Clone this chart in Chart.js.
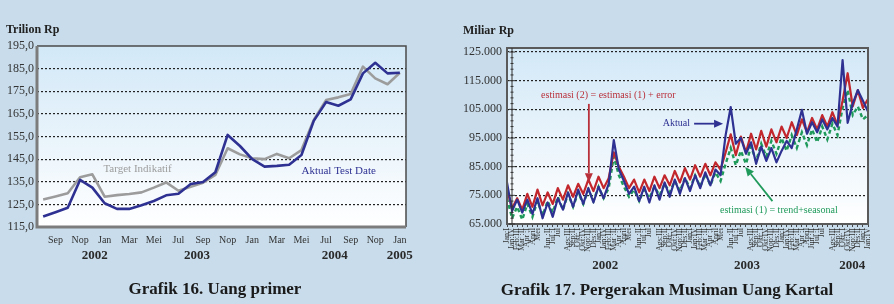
<!DOCTYPE html>
<html><head><meta charset="utf-8">
<script src="https://cdn.jsdelivr.net/npm/chart.js@4.4.0/dist/chart.umd.min.js"></script>
<style>
html,body{margin:0;padding:0;width:894px;height:304px;overflow:hidden;background:#c8dceb;}
#wrap{position:relative;width:894px;height:304px;}
canvas{position:absolute;top:0;}
#c16{left:0}
#c17{left:447px}
</style></head><body><div id="wrap"><canvas id="c16" width="447" height="304"></canvas><canvas id="c17" width="447" height="304"></canvas></div>
<script>
// ---------- Grafik 16 data ----------
const months16 = ['Agt','Sep','Okt','Nop','Des','Jan','Feb','Mar','Apr','Mei','Jun','Jul','Agt','Sep','Okt','Nop','Des','Jan','Feb','Mar','Apr','Mei','Jun','Jul','Agt','Sep','Okt','Nop','Des','Jan'];
const aktualTestDate = [119.6,121.5,123.5,135.8,132.4,125.5,123.0,123.0,124.6,126.5,129.0,129.7,134.0,134.9,139.2,155.7,150.8,145.0,141.7,142.0,142.5,146.8,161.9,170.2,168.6,171.4,182.9,187.6,182.9,183.2];
const targetIndikatif = [127.2,128.5,129.9,137.0,138.3,128.4,129.1,129.6,130.3,132.4,134.7,131.0,132.8,134.6,138.0,149.8,147.1,145.4,145.0,147.3,145.4,149.0,162.3,171.1,172.3,173.8,185.9,180.7,178.1,183.2];
const years16 = ['2002','2003','2004','2005'];
const yTicks16 = [115,125,135,145,155,165,175,185,195];

// ---------- Grafik 17 data ----------
const weeks17 = [
 'Jan:I','Jan:IV','Feb:III','Mar :II','Apr :I','April','Mei','','Jun :II','Jul :I','Jul','','Ags:III','Sep:II','Okt: I','Okt:IV','Nop:III','Des:II',
 'Jan:I','Jan:IV','Feb:III','Mar :II','Apr :I','April','Mei','','Jun :II','Jul :I','Jul','','Ags:III','Sep:II','Okt: I','Okt:IV','Nop:III','Des:II',
 'Jan:I','Jan:IV','Feb:III','Mar :II','Apr :I','April','Mei','','Jun :II','Jul :I','Jul','','Ags:III','Sep:II','Okt: I','Okt:IV','Nop:III','Des:II',
 'Jan:I','Jan:IV','Feb:III','Mar :II','Apr :I','April','Jun :II','Jul :I','Jul','','Ags:III','Sep:II','Okt: I','Okt:IV','Nop:III','Des:II','Jan:I','Jan:IV'];
const aktual17 = [79500,69500,73500,69000,73500,68500,74000,67000,72500,67500,74000,70000,76000,71000,77000,72000,77500,72500,78000,74000,
 79000,94300,84000,80000,75500,78000,73000,78000,72500,78500,73500,79500,74500,80500,75500,81000,76500,82000,77500,83000,
 78500,84000,82000,96000,105800,93000,95000,89500,93500,86000,92000,87000,91500,86500,90500,94000,91500,98000,104800,96500,
 100500,97000,101500,98000,102000,99000,122200,100300,107000,111700,108000,104200];
const estimasi2 = [77000,70500,74000,70000,75500,71000,77000,71500,76000,72000,77500,73500,78500,74500,79000,75500,80500,76500,81500,77500,
 81000,90000,85000,81500,77500,80500,76000,80500,76500,81500,77500,82000,78500,83500,79500,84500,80500,85500,81500,86000,
 82000,86500,84000,90000,96300,89000,95500,90000,96500,91000,97500,92000,98000,93500,99000,95000,100500,96000,101500,97000,
 102000,98000,103000,99000,104000,99500,108000,117600,106000,111700,105500,108600];
const estimasi1 = [74000,67000,71000,66500,72000,67500,73000,68000,73000,69000,74500,70000,75500,71000,76000,72000,77000,73000,78000,74000,
 77500,88500,82000,78000,74500,77000,73000,77000,74000,78000,75000,79000,76000,80000,76500,81000,77500,82000,78000,82500,
 78500,83000,80000,86000,91500,85500,90500,86000,92000,87000,93000,88500,94000,89500,95000,90500,96000,91500,97000,92500,
 98000,93500,99000,94500,100000,96000,105500,111700,103000,106000,101500,103000];
const years17 = ['2002','2003','2004'];
const yTicks17 = [65000,75000,85000,95000,105000,115000,125000];

// ---------- annotation placement (in data space) ----------
const yearAt16 = [4.2,12.5,23.7,29];
const yearAt17 = [19.3,47.2,67.9];
const notes16 = [
  {text:'Target Indikatif', at:4.9, value:140.6, color:'#9c9c9c', align:'left'},
  {text:'Aktual Test Date', at:21.0, value:139.8, color:'#2e3192', align:'left'}
];
const notes17 = [
  {text:'estimasi (2) = estimasi (1) + error', at:6.7, value:110000, color:'#b8303a', align:'left'},
  {text:'Aktual', at:36.0, value:100000, color:'#2e3192', align:'right'},
  {text:'estimasi (1) = trend+seasonal', at:41.9, value:69600, color:'#1f9a5a', align:'left'}
];
const arrows17 = [
  {from:[16.1,106900], to:[16.1,79600], color:'#b8303a'},
  {from:[36.8,100000], to:[42.5,100000], color:'#2e3192'},
  {from:[52.2,73000], to:[46.85,84900], color:'#1f9a5a'}
];

const serif = '"Liberation Serif","Times New Roman",serif';
function fmtThousands(v){ return String(Math.round(v)).replace(/\B(?=(\d{3})+(?!\d))/g,'.'); }

function arrow(ctx,x1,y1,x2,y2,color){
  const ang=Math.atan2(y2-y1,x2-x1), L=9, W=4;
  const bx=x2-L*Math.cos(ang), by=y2-L*Math.sin(ang);
  ctx.save(); ctx.strokeStyle=color; ctx.fillStyle=color; ctx.lineWidth=1.8;
  ctx.beginPath(); ctx.moveTo(x1,y1); ctx.lineTo(bx,by); ctx.stroke();
  ctx.beginPath(); ctx.moveTo(x2,y2);
  ctx.lineTo(bx - W*Math.sin(ang), by + W*Math.cos(ang));
  ctx.lineTo(bx + W*Math.sin(ang), by - W*Math.cos(ang));
  ctx.closePath(); ctx.fill(); ctx.restore();
}

const plotBg = {id:'plotBg', beforeDraw(chart){
  const {ctx, chartArea:a} = chart;
  const g = ctx.createLinearGradient(0,a.top,0,a.bottom);
  g.addColorStop(0,'#d2e8f7'); g.addColorStop(1,'#ffffff');
  ctx.save(); ctx.fillStyle=g; ctx.fillRect(a.left,a.top,a.right-a.left,a.bottom-a.top); ctx.restore();
}};

// ---------- Chart 16 ----------
const deco16 = {id:'deco16', afterDraw(chart){
  const {ctx, chartArea:a, scales:{x,y}} = chart;
  ctx.save();
  ctx.strokeStyle='#4a4a4a'; ctx.lineWidth=1.5;
  ctx.beginPath(); ctx.moveTo(a.left,a.top); ctx.lineTo(a.right,a.top); ctx.lineTo(a.right,a.bottom); ctx.stroke();
  ctx.strokeStyle='#7c7c7c'; ctx.lineWidth=3;
  ctx.beginPath(); ctx.moveTo(a.left,a.top); ctx.lineTo(a.left,a.bottom); ctx.lineTo(a.right,a.bottom); ctx.stroke();
  ctx.font='11px '+serif; ctx.textBaseline='middle';
  notes16.forEach(n=>{ ctx.fillStyle=n.color; ctx.textAlign=n.align; ctx.fillText(n.text, x.getPixelForValue(n.at), y.getPixelForValue(n.value)); });
  ctx.font='bold 13px '+serif; ctx.fillStyle='#2a2a2a'; ctx.textAlign='center';
  years16.forEach((t,i)=> ctx.fillText(t, x.getPixelForValue(yearAt16[i]), a.bottom+29));
  ctx.textAlign='left'; ctx.font='bold 12px '+serif; ctx.fillStyle='#222';
  ctx.fillText('Trilion Rp', 6, 30);
  ctx.textAlign='center'; ctx.font='bold 17px '+serif; ctx.fillStyle='#1a1a1a';
  ctx.fillText('Grafik 16. Uang primer', 215, 290);
  ctx.restore();
}};

new Chart(document.getElementById('c16'), {
  type:'line',
  data:{labels:months16, datasets:[
    {data:aktualTestDate, borderColor:'#2e3192', borderWidth:2.6, pointRadius:0, tension:0, fill:false, borderJoinStyle:'round'},
    {data:targetIndikatif, borderColor:'#9c9c9c', borderWidth:2.6, pointRadius:0, tension:0, fill:false, borderJoinStyle:'round'}
  ]},
  options:{
    responsive:false, animation:false, devicePixelRatio:1,
    layout:{padding:{left:0,top:46,right:41,bottom:0}},
    plugins:{legend:{display:false}, tooltip:{enabled:false}},
    scales:{
      x:{type:'category', offset:true, grid:{display:false, drawTicks:false}, border:{display:false},
         ticks:{autoSkip:false, maxRotation:0, minRotation:0, padding:7, color:'#333', font:{family:serif,size:10},
                callback:(v,i)=> (i%2===1 ? months16[i] : '')},
         afterFit:s=>{s.height=77;}},
      y:{min:115, max:195,
         afterBuildTicks:s=>{ s.ticks = yTicks16.map(v=>({value:v})); },
         ticks:{padding:3, color:'#333', font:{family:serif,size:12}, callback:v=>Number(v).toFixed(1).replace('.',',')},
         grid:{drawTicks:false, lineWidth:1.2, color:c=> (c.tick && (c.tick.value===115||c.tick.value===195)) ? 'rgba(0,0,0,0)' : '#222'},
         border:{display:false, dash:[2,2]},
         afterFit:s=>{s.width=37;}}
    }
  },
  plugins:[plotBg, deco16]
});

// ---------- Chart 17 ----------
const deco17 = {id:'deco17', afterDraw(chart){
  const {ctx, chartArea:a, scales:{x,y}} = chart;
  ctx.save();
  ctx.strokeStyle='#5a5a5a'; ctx.lineWidth=2;
  ctx.strokeRect(a.left,a.top,a.right-a.left,a.bottom-a.top);
  const ax=a.left+5;
  ctx.strokeStyle='#333'; ctx.lineWidth=1;
  ctx.beginPath(); ctx.moveTo(ax,a.top); ctx.lineTo(ax,a.bottom); ctx.stroke();
  for(let v=65000; v<=126000; v+=2000){
    const py=y.getPixelForValue(v); const major=(v-65000)%10000===0;
    ctx.beginPath(); ctx.moveTo(ax-(major?3:1.5),py); ctx.lineTo(ax+(major?3:1.5),py); ctx.stroke();
  }
  arrows17.forEach(r=> arrow(ctx, x.getPixelForValue(r.from[0]), y.getPixelForValue(r.from[1]), x.getPixelForValue(r.to[0]), y.getPixelForValue(r.to[1]), r.color));
  ctx.font='10px '+serif; ctx.textBaseline='middle';
  notes17.forEach(n=>{ ctx.fillStyle=n.color; ctx.textAlign=n.align; ctx.fillText(n.text, x.getPixelForValue(n.at), y.getPixelForValue(n.value)); });
  ctx.font='bold 13px '+serif; ctx.fillStyle='#2a2a2a'; ctx.textAlign='center';
  years17.forEach((t,i)=> ctx.fillText(t, x.getPixelForValue(yearAt17[i]), a.bottom+42));
  ctx.textAlign='left'; ctx.font='bold 12px '+serif; ctx.fillStyle='#222';
  ctx.fillText('Miliar Rp', 16, 31);
  ctx.textAlign='center'; ctx.font='bold 17px '+serif; ctx.fillStyle='#1a1a1a';
  ctx.fillText('Grafik 17. Pergerakan Musiman Uang Kartal', 220, 291);
  ctx.restore();
}};

new Chart(document.getElementById('c17'), {
  type:'line',
  data:{labels:weeks17, datasets:[
    {data:aktual17, borderColor:'#2e3192', borderWidth:2.2, pointRadius:0, tension:0, fill:false, borderJoinStyle:'round'},
    {data:estimasi2, borderColor:'#c1272d', borderWidth:2.2, pointRadius:0, tension:0, fill:false, borderJoinStyle:'round'},
    {data:estimasi1, borderColor:'#1f9a5a', borderWidth:2.4, borderDash:[4,3], pointRadius:0, tension:0, fill:false}
  ]},
  options:{
    responsive:false, animation:false, devicePixelRatio:1,
    layout:{padding:{left:0,top:48,right:26,bottom:0}},
    plugins:{legend:{display:false}, tooltip:{enabled:false}},
    scales:{
      x:{type:'category', offset:false,
         grid:{display:true, drawOnChartArea:false, drawTicks:true, tickLength:3, color:'#444', lineWidth:1},
         border:{display:false},
         ticks:{autoSkip:false, minRotation:90, maxRotation:90, padding:1, color:'#333', font:{family:serif,size:8}},
         afterFit:s=>{s.height=80;}},
      y:{min:65000, max:126400,
         afterBuildTicks:s=>{ s.ticks = yTicks17.map(v=>({value:v})); },
         ticks:{padding:5, color:'#333', font:{family:serif,size:12}, callback:v=>fmtThousands(v)},
         grid:{drawTicks:false, lineWidth:1.2, color:c=> (c.tick && c.tick.value===65000) ? 'rgba(0,0,0,0)' : '#222'},
         border:{display:false, dash:[2,2]},
         afterFit:s=>{s.width=60;}}
    }
  },
  plugins:[plotBg, deco17]
});
</script></body></html>
